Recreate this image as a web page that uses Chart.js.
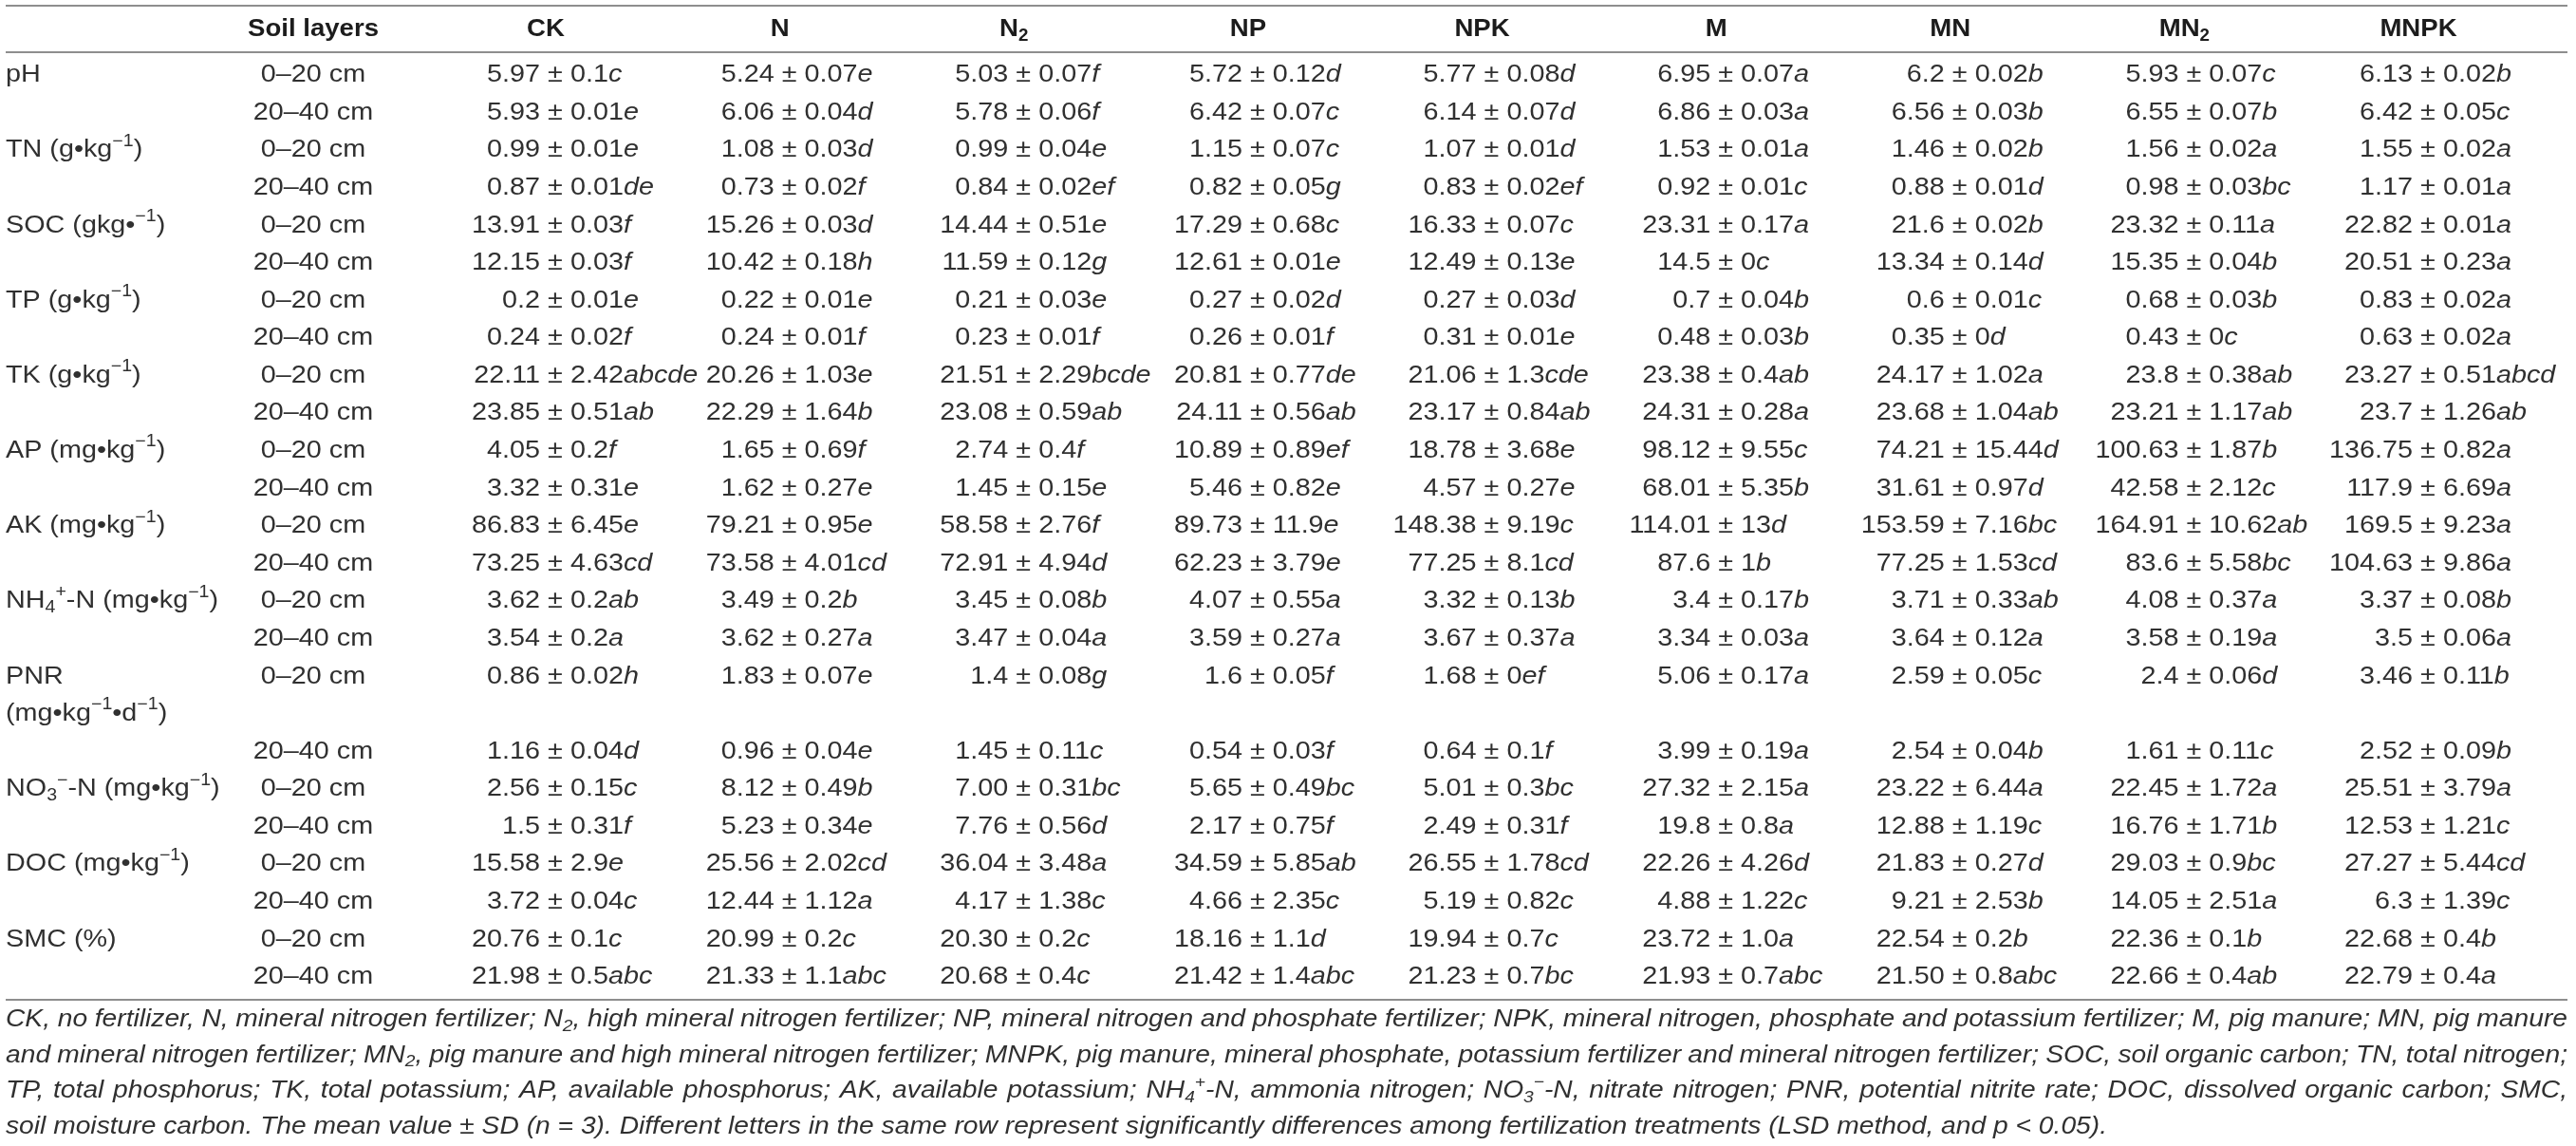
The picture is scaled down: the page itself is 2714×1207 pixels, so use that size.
<!DOCTYPE html>
<html lang="en">
<head>
<meta charset="UTF-8" />
<title>Soil properties under fertilization treatments</title>
<script src="https://cdn.jsdelivr.net/npm/chart.js"></script>
<style>
  html, body { margin: 0; padding: 0; background: #fff; }
  .wrap { position: relative; width: 2714px; height: 1207px; }
</style>
</head>
<body>
<div class="wrap"><canvas id="tbl"></canvas></div>
<script>
  // _{..} = subscript, ^{..} = superscript, \n = label wraps onto an extra line
  const treatments = ['CK', 'N', 'N_{2}', 'NP', 'NPK', 'M', 'MN', 'MN_{2}', 'MNPK'];
  const layerHeader = 'Soil layers';
  const layers = ['0–20 cm', '20–40 cm'];
  const variables = [
    'pH',
    'TN (g•kg^{−1})',
    'SOC (gkg•^{−1})',
    'TP (g•kg^{−1})',
    'TK (g•kg^{−1})',
    'AP (mg•kg^{−1})',
    'AK (mg•kg^{−1})',
    'NH_{4}^{+}-N (mg•kg^{−1})',
    'PNR\n(mg•kg^{−1}•d^{−1})',
    'NO_{3}^{−}-N (mg•kg^{−1})',
    'DOC (mg•kg^{−1})',
    'SMC (%)'
  ];

  // mean ± SD + significance letters, two rows (0–20, 20–40 cm) per variable
  const CK = ['5.97 ± 0.1c', '5.93 ± 0.01e', '0.99 ± 0.01e', '0.87 ± 0.01de', '13.91 ± 0.03f', '12.15 ± 0.03f',
    '0.2 ± 0.01e', '0.24 ± 0.02f', '22.11 ± 2.42abcde', '23.85 ± 0.51ab', '4.05 ± 0.2f', '3.32 ± 0.31e',
    '86.83 ± 6.45e', '73.25 ± 4.63cd', '3.62 ± 0.2ab', '3.54 ± 0.2a', '0.86 ± 0.02h', '1.16 ± 0.04d',
    '2.56 ± 0.15c', '1.5 ± 0.31f', '15.58 ± 2.9e', '3.72 ± 0.04c', '20.76 ± 0.1c', '21.98 ± 0.5abc'];
  const N = ['5.24 ± 0.07e', '6.06 ± 0.04d', '1.08 ± 0.03d', '0.73 ± 0.02f', '15.26 ± 0.03d', '10.42 ± 0.18h',
    '0.22 ± 0.01e', '0.24 ± 0.01f', '20.26 ± 1.03e', '22.29 ± 1.64b', '1.65 ± 0.69f', '1.62 ± 0.27e',
    '79.21 ± 0.95e', '73.58 ± 4.01cd', '3.49 ± 0.2b', '3.62 ± 0.27a', '1.83 ± 0.07e', '0.96 ± 0.04e',
    '8.12 ± 0.49b', '5.23 ± 0.34e', '25.56 ± 2.02cd', '12.44 ± 1.12a', '20.99 ± 0.2c', '21.33 ± 1.1abc'];
  const N2 = ['5.03 ± 0.07f', '5.78 ± 0.06f', '0.99 ± 0.04e', '0.84 ± 0.02ef', '14.44 ± 0.51e', '11.59 ± 0.12g',
    '0.21 ± 0.03e', '0.23 ± 0.01f', '21.51 ± 2.29bcde', '23.08 ± 0.59ab', '2.74 ± 0.4f', '1.45 ± 0.15e',
    '58.58 ± 2.76f', '72.91 ± 4.94d', '3.45 ± 0.08b', '3.47 ± 0.04a', '1.4 ± 0.08g', '1.45 ± 0.11c',
    '7.00 ± 0.31bc', '7.76 ± 0.56d', '36.04 ± 3.48a', '4.17 ± 1.38c', '20.30 ± 0.2c', '20.68 ± 0.4c'];
  const NP = ['5.72 ± 0.12d', '6.42 ± 0.07c', '1.15 ± 0.07c', '0.82 ± 0.05g', '17.29 ± 0.68c', '12.61 ± 0.01e',
    '0.27 ± 0.02d', '0.26 ± 0.01f', '20.81 ± 0.77de', '24.11 ± 0.56ab', '10.89 ± 0.89ef', '5.46 ± 0.82e',
    '89.73 ± 11.9e', '62.23 ± 3.79e', '4.07 ± 0.55a', '3.59 ± 0.27a', '1.6 ± 0.05f', '0.54 ± 0.03f',
    '5.65 ± 0.49bc', '2.17 ± 0.75f', '34.59 ± 5.85ab', '4.66 ± 2.35c', '18.16 ± 1.1d', '21.42 ± 1.4abc'];
  const NPK = ['5.77 ± 0.08d', '6.14 ± 0.07d', '1.07 ± 0.01d', '0.83 ± 0.02ef', '16.33 ± 0.07c', '12.49 ± 0.13e',
    '0.27 ± 0.03d', '0.31 ± 0.01e', '21.06 ± 1.3cde', '23.17 ± 0.84ab', '18.78 ± 3.68e', '4.57 ± 0.27e',
    '148.38 ± 9.19c', '77.25 ± 8.1cd', '3.32 ± 0.13b', '3.67 ± 0.37a', '1.68 ± 0ef', '0.64 ± 0.1f',
    '5.01 ± 0.3bc', '2.49 ± 0.31f', '26.55 ± 1.78cd', '5.19 ± 0.82c', '19.94 ± 0.7c', '21.23 ± 0.7bc'];
  const M = ['6.95 ± 0.07a', '6.86 ± 0.03a', '1.53 ± 0.01a', '0.92 ± 0.01c', '23.31 ± 0.17a', '14.5 ± 0c',
    '0.7 ± 0.04b', '0.48 ± 0.03b', '23.38 ± 0.4ab', '24.31 ± 0.28a', '98.12 ± 9.55c', '68.01 ± 5.35b',
    '114.01 ± 13d', '87.6 ± 1b', '3.4 ± 0.17b', '3.34 ± 0.03a', '5.06 ± 0.17a', '3.99 ± 0.19a',
    '27.32 ± 2.15a', '19.8 ± 0.8a', '22.26 ± 4.26d', '4.88 ± 1.22c', '23.72 ± 1.0a', '21.93 ± 0.7abc'];
  const MN = ['6.2 ± 0.02b', '6.56 ± 0.03b', '1.46 ± 0.02b', '0.88 ± 0.01d', '21.6 ± 0.02b', '13.34 ± 0.14d',
    '0.6 ± 0.01c', '0.35 ± 0d', '24.17 ± 1.02a', '23.68 ± 1.04ab', '74.21 ± 15.44d', '31.61 ± 0.97d',
    '153.59 ± 7.16bc', '77.25 ± 1.53cd', '3.71 ± 0.33ab', '3.64 ± 0.12a', '2.59 ± 0.05c', '2.54 ± 0.04b',
    '23.22 ± 6.44a', '12.88 ± 1.19c', '21.83 ± 0.27d', '9.21 ± 2.53b', '22.54 ± 0.2b', '21.50 ± 0.8abc'];
  const MN2 = ['5.93 ± 0.07c', '6.55 ± 0.07b', '1.56 ± 0.02a', '0.98 ± 0.03bc', '23.32 ± 0.11a', '15.35 ± 0.04b',
    '0.68 ± 0.03b', '0.43 ± 0c', '23.8 ± 0.38ab', '23.21 ± 1.17ab', '100.63 ± 1.87b', '42.58 ± 2.12c',
    '164.91 ± 10.62ab', '83.6 ± 5.58bc', '4.08 ± 0.37a', '3.58 ± 0.19a', '2.4 ± 0.06d', '1.61 ± 0.11c',
    '22.45 ± 1.72a', '16.76 ± 1.71b', '29.03 ± 0.9bc', '14.05 ± 2.51a', '22.36 ± 0.1b', '22.66 ± 0.4ab'];
  const MNPK = ['6.13 ± 0.02b', '6.42 ± 0.05c', '1.55 ± 0.02a', '1.17 ± 0.01a', '22.82 ± 0.01a', '20.51 ± 0.23a',
    '0.83 ± 0.02a', '0.63 ± 0.02a', '23.27 ± 0.51abcd', '23.7 ± 1.26ab', '136.75 ± 0.82a', '117.9 ± 6.69a',
    '169.5 ± 9.23a', '104.63 ± 9.86a', '3.37 ± 0.08b', '3.5 ± 0.06a', '3.46 ± 0.11b', '2.52 ± 0.09b',
    '25.51 ± 3.79a', '12.53 ± 1.21c', '27.27 ± 5.44cd', '6.3 ± 1.39c', '22.68 ± 0.4b', '22.79 ± 0.4a'];
  const columnValues = [CK, N, N2, NP, NPK, M, MN, MN2, MNPK];

  const footnote = [
    'CK, no fertilizer, N, mineral nitrogen fertilizer; N_{2}, high mineral nitrogen fertilizer; NP, mineral nitrogen and phosphate fertilizer; NPK, mineral nitrogen, phosphate and potassium fertilizer; M, pig manure; MN, pig manure',
    'and mineral nitrogen fertilizer; MN_{2}, pig manure and high mineral nitrogen fertilizer; MNPK, pig manure, mineral phosphate, potassium fertilizer and mineral nitrogen fertilizer; SOC, soil organic carbon; TN, total nitrogen;',
    'TP, total phosphorus; TK, total potassium; AP, available phosphorus; AK, available potassium; NH_{4}^{+}-N, ammonia nitrogen; NO_{3}^{−}-N, nitrate nitrogen; PNR, potential nitrite rate; DOC, dissolved organic carbon; SMC,',
    'soil moisture carbon. The mean value ± SD (n = 3). Different letters in the same row represent significantly differences among fertilization treatments (LSD method, and p < 0.05).'
  ];

  // row slots on the y axis (PNR label takes one extra line)
  const slots = [];
  const rowSlot = [];
  const labelSlots = [];
  variables.forEach((v, vi) => {
    const lines = v.split('\n');
    slots.push(vi + '-0');
    rowSlot.push(vi + '-0');
    labelSlots.push([vi + '-0', lines[0]]);
    lines.slice(1).forEach((ln, k) => {
      slots.push(vi + '-w' + k);
      labelSlots.push([vi + '-w' + k, ln]);
    });
    slots.push(vi + '-1');
    rowSlot.push(vi + '-1');
  });

  const FONT = '"Liberation Sans", Arial, Helvetica, sans-serif';
  const DATA_SIZE = 26, HEAD_SIZE = 26.5, FOOT_SIZE = 25.5;
  const TEXT = '#303030', HEAD = '#1c1c1c', RULE = '#8e8e8e';
  const LEFT = 6, RIGHT = 2705;
  const LAYER_GAP = 255;        // soil-layer column centre, left of the CK column
  // widths, used to set the horizontal stretch of the type
  const DATA_REF_WIDTH = 236;   // "22.11 ± 2.42abcde"
  const HEAD_REF_WIDTH = 138;   // "Soil layers"
  const FOOT_END = 2220;        // right end of the last footnote line

  function parseRich(str) {
    const segs = [];
    const re = /([_^])\{([^}]*)\}/g;
    let last = 0, m;
    while ((m = re.exec(str))) {
      if (m.index > last) segs.push({ t: str.slice(last, m.index), mode: '' });
      segs.push({ t: m[2], mode: m[1] });
      last = re.lastIndex;
    }
    if (last < str.length) segs.push({ t: str.slice(last), mode: '' });
    return segs;
  }

  function fontFor(size, weight, style) {
    return `${style || 'normal'} ${weight || 'normal'} ${size}px ${FONT}`;
  }

  function segFont(ctx, s, o) {
    const size = s.mode ? o.size * 0.68 : o.size;
    ctx.font = fontFor(size, o.weight, s.italic ? 'italic' : o.style);
  }

  function segsWidth(ctx, segs, o) {
    let w = 0;
    segs.forEach(s => {
      segFont(ctx, s, o);
      w += ctx.measureText(s.t).width * (o.sx || 1);
    });
    return w;
  }

  function put(ctx, text, x, y, sx) {
    ctx.save();
    ctx.translate(x, y);
    ctx.scale(sx, 1);
    ctx.fillText(text, 0, 0);
    ctx.restore();
  }

  // draws rich segments from x; extraSpace widens every blank (justification)
  function drawSegs(ctx, segs, x, y, o, extraSpace) {
    const sx = o.sx || 1;
    let cx = x;
    segs.forEach(s => {
      segFont(ctx, s, o);
      const dy = s.mode === '_' ? o.size * 0.28 : s.mode === '^' ? -o.size * 0.36 : 0;
      if (extraSpace && !s.mode) {
        s.t.split(' ').forEach((word, k, arr) => {
          put(ctx, word, cx, y + dy, sx);
          cx += ctx.measureText(word).width * sx;
          if (k < arr.length - 1) cx += ctx.measureText(' ').width * sx + extraSpace;
        });
      } else {
        put(ctx, s.t, cx, y + dy, sx);
        cx += ctx.measureText(s.t).width * sx;
      }
    });
    return cx - x;
  }

  function cellSegs(raw) {
    const parts = raw.split(' ± ');
    const m = parts[1].match(/^(.*?)([a-h]+)$/);
    return { mean: parts[0], sd: m[1], sig: m[2] };
  }

  const tablePlugin = {
    id: 'tableText',
    afterDatasetsDraw(chart) {
      const ctx = chart.ctx;
      const area = chart.chartArea;
      const xs = chart.scales.x, ys = chart.scales.y;
      ctx.save();
      ctx.textBaseline = 'middle';
      ctx.textAlign = 'left';

      // stretch factors so the type covers the same width as in the picture
      const dataSx = DATA_REF_WIDTH / segsWidth(ctx,
        [{ t: '22.11 ± 2.42', mode: '' }, { t: 'abcde', mode: '', italic: true }], { size: DATA_SIZE });
      const headSx = HEAD_REF_WIDTH / segsWidth(ctx, [{ t: layerHeader, mode: '' }], { size: HEAD_SIZE, weight: 'bold' });
      const footSx = (FOOT_END - LEFT) / segsWidth(ctx, parseRich(footnote[footnote.length - 1]), { size: FOOT_SIZE, style: 'italic' });
      const dO = { size: DATA_SIZE, sx: dataSx };
      const hO = { size: HEAD_SIZE, weight: 'bold', sx: headSx };
      const fO = { size: FOOT_SIZE, style: 'italic', sx: footSx };
      const layerX = xs.getPixelForValue(0) - LAYER_GAP;

      // rules
      ctx.strokeStyle = RULE;
      ctx.lineWidth = 2;
      [area.top - 73, area.top - 24, area.bottom + 24].forEach(y => {
        ctx.beginPath();
        ctx.moveTo(LEFT, y);
        ctx.lineTo(RIGHT, y);
        ctx.stroke();
      });

      // header row
      ctx.fillStyle = HEAD;
      const headY = area.top - 48;
      const lh = parseRich(layerHeader);
      drawSegs(ctx, lh, layerX - segsWidth(ctx, lh, hO) / 2, headY, hO);
      treatments.forEach((c, ci) => {
        const segs = parseRich(c);
        const w = segsWidth(ctx, segs, hO);
        drawSegs(ctx, segs, xs.getPixelForValue(ci) - 10 - w / 2, headY, hO);
      });

      // row labels and soil layers
      ctx.fillStyle = TEXT;
      labelSlots.forEach(([key, text]) => {
        drawSegs(ctx, parseRich(text), LEFT, ys.getPixelForValue(slots.indexOf(key)), dO);
      });
      rowSlot.forEach((key, r) => {
        const segs = [{ t: layers[r % 2], mode: '' }];
        drawSegs(ctx, segs, layerX - segsWidth(ctx, segs, dO) / 2, ys.getPixelForValue(slots.indexOf(key)), dO);
      });

      // cells, aligned on the ± sign
      ctx.font = fontFor(DATA_SIZE);
      const pm = ctx.measureText('±').width * dataSx;
      const sp = ctx.measureText(' ').width * dataSx;
      chart.data.datasets.forEach((ds, di) => {
        const meta = chart.getDatasetMeta(di);
        meta.data.forEach((pt, j) => {
          const c = cellSegs(ds.data[j].t);
          const mw = segsWidth(ctx, [{ t: c.mean, mode: '' }], dO);
          drawSegs(ctx, [{ t: c.mean, mode: '' }], pt.x - pm / 2 - sp - mw, pt.y, dO);
          drawSegs(ctx, [{ t: '±', mode: '' }], pt.x - pm / 2, pt.y, dO);
          drawSegs(ctx, [{ t: c.sd, mode: '' }, { t: c.sig, mode: '', italic: true }],
            pt.x + pm / 2 + sp, pt.y, dO);
        });
      });

      // footnote, first three lines justified to the rule width
      footnote.forEach((line, i) => {
        const segs = parseRich(line);
        const y = area.bottom + 45 + i * 37.5;
        let extra = 0;
        if (i < footnote.length - 1) {
          const nat = segsWidth(ctx, segs, fO);
          const gaps = segs.filter(s => !s.mode).reduce((n, s) => n + s.t.split(' ').length - 1, 0);
          extra = (RIGHT - LEFT - nat) / gaps;
        }
        drawSegs(ctx, segs, LEFT, y, fO, extra);
      });
      ctx.restore();
    }
  };

  const datasets = treatments.map((c, ci) => ({
    label: c,
    data: rowSlot.map((slot, r) => ({ x: c, y: slot, t: columnValues[ci][r] })),
    pointRadius: 0,
    pointHoverRadius: 0
  }));

  new Chart(document.getElementById('tbl'), {
    type: 'scatter',
    data: { datasets: datasets },
    options: {
      responsive: true,
      maintainAspectRatio: false,
      animation: false,
      devicePixelRatio: 1,
      events: [],
      layout: { padding: { left: 585, right: 156, top: 79, bottom: 178 } },
      plugins: { legend: { display: false }, tooltip: { enabled: false } },
      scales: {
        x: { type: 'category', labels: treatments, offset: false, display: false },
        y: { type: 'category', labels: slots, offset: false, display: false }
      }
    },
    plugins: [tablePlugin]
  });
</script>
</body>
</html>
